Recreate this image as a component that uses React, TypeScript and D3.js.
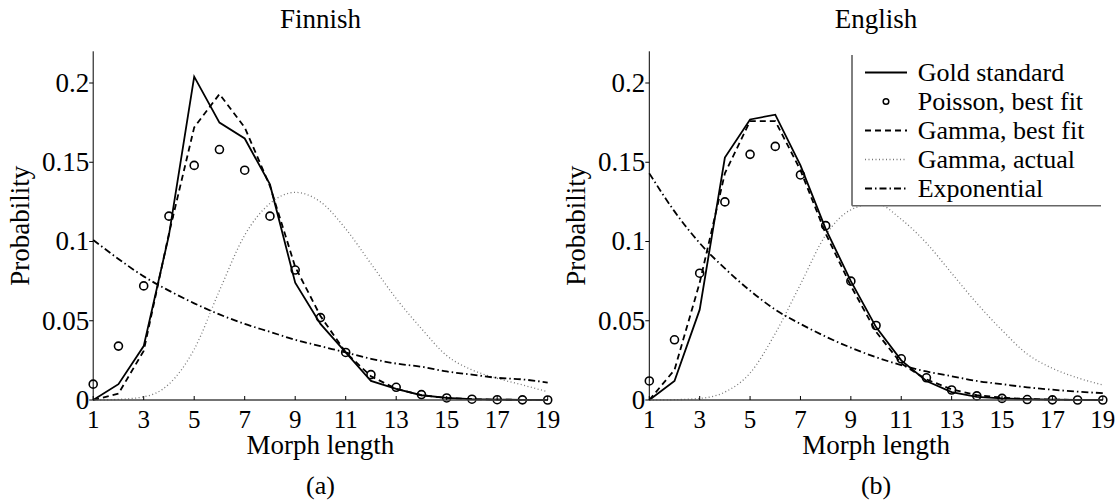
import * as d3 from 'd3'

// morph lengths on the x axis
const lengths = [1, 2, 3, 4, 5, 6, 7, 8, 9, 10, 11, 12, 13, 14, 15, 16, 17, 18, 19]
const xTicks = [1, 3, 5, 7, 9, 11, 13, 15, 17, 19]
const yTicks = [0, 0.05, 0.1, 0.15, 0.2]
const yTickLabels = ['0', '0.05', '0.1', '0.15', '0.2']

// Finnish
const finGold = [0, 0.010, 0.034, 0.104, 0.204, 0.175, 0.165, 0.136, 0.074, 0.048, 0.030, 0.012, 0.007, 0.003, 0.0013, 0.0005, 0.0002, 0.0001, 0]
const finPoisson = [0.010, 0.034, 0.072, 0.116, 0.148, 0.158, 0.145, 0.116, 0.082, 0.052, 0.030, 0.016, 0.008, 0.0034, 0.0013, 0.0005, 0.0002, 0.0001, 0]
const finGammaFit = [0, 0.004, 0.031, 0.105, 0.172, 0.193, 0.172, 0.135, 0.084, 0.053, 0.030, 0.015, 0.007, 0.003, 0.0013, 0.0005, 0.0002, 0.0001, 0]
const finGammaActual = [0, 0.0004, 0.002, 0.010, 0.032, 0.069, 0.104, 0.124, 0.131, 0.125, 0.108, 0.086, 0.064, 0.045, 0.028, 0.019, 0.0137, 0.0095, 0.0052]
const finExp = [0.101, 0.089, 0.078, 0.069, 0.061, 0.054, 0.048, 0.043, 0.038, 0.034, 0.030, 0.026, 0.023, 0.021, 0.018, 0.016, 0.014, 0.013, 0.011]

// English
const engGold = [0, 0.012, 0.057, 0.153, 0.177, 0.180, 0.148, 0.108, 0.075, 0.046, 0.025, 0.012, 0.005, 0.002, 0.001, 0.0005, 0.0002, 0.0001, 0]
const engPoisson = [0.012, 0.038, 0.080, 0.125, 0.155, 0.160, 0.142, 0.110, 0.075, 0.047, 0.026, 0.014, 0.0063, 0.0026, 0.001, 0.0003, 0.0001, 0, 0]
const engGammaFit = [0, 0.019, 0.074, 0.143, 0.176, 0.176, 0.145, 0.105, 0.072, 0.043, 0.023, 0.013, 0.0067, 0.003, 0.0015, 0.0006, 0.0002, 0.0001, 0]
const engGammaActual = [0, 0.0002, 0.001, 0.005, 0.017, 0.042, 0.073, 0.104, 0.120, 0.124, 0.114, 0.099, 0.080, 0.061, 0.044, 0.029, 0.020, 0.014, 0.0095]
const engExp = [0.143, 0.119, 0.099, 0.083, 0.069, 0.057, 0.048, 0.040, 0.033, 0.027, 0.022, 0.018, 0.015, 0.012, 0.010, 0.008, 0.0065, 0.0053, 0.0043]

const legendLabels = ['Gold standard', 'Poisson, best fit', 'Gamma, best fit', 'Gamma, actual', 'Exponential']

const font = "'Liberation Serif', 'Times New Roman', Times, serif"

const styles = {
  gold: { stroke: '#000', strokeWidth: 1.8, dash: undefined },
  gammaFit: { stroke: '#000', strokeWidth: 1.8, dash: '6,4' },
  gammaActual: { stroke: '#777', strokeWidth: 1.3, dash: '1,2.5' },
  exp: { stroke: '#000', strokeWidth: 1.8, dash: '7,3,1.5,3' },
}
const legendStyles = [styles.gold, null, styles.gammaFit, styles.gammaActual, styles.exp]

type PanelProps = {
  left: number
  right: number
  title: string
  caption: string
  gold: number[]
  poisson: number[]
  gammaFit: number[]
  gammaActual: number[]
  exp: number[]
  legend?: boolean
}

const Panel = ({ left, right, title, caption, gold, poisson, gammaFit, gammaActual, exp, legend }: PanelProps) => {
  const x = d3.scaleLinear().domain([1, 19]).range([left, right])
  const y = d3.scaleLinear().domain([0, 0.22]).range([400, 51.3])
  const mid = (left + right) / 2

  const straight = d3.line<number>().x((d, i) => x(lengths[i])).y(d => y(d))
  const smooth = d3.line<number>().x((d, i) => x(lengths[i])).y(d => y(d)).curve(d3.curveMonotoneX)

  const path = (d: string | null, s: any) => (
    <path d={d || ''} fill="none" stroke={s.stroke} strokeWidth={s.strokeWidth} strokeDasharray={s.dash} />
  )

  const lx0 = 865
  const lx1 = 907
  const rowY = (i: number) => 80.5 + i * 29

  return (
    <g>
      <text x={mid} y={28} textAnchor="middle" fontSize={27}>{title}</text>

      {path(smooth(gammaActual), styles.gammaActual)}
      {path(smooth(exp), styles.exp)}
      {path(straight(gammaFit), styles.gammaFit)}
      {path(straight(gold), styles.gold)}
      {poisson.map((d, i) => (
        <circle key={i} cx={x(lengths[i])} cy={y(d)} r={4} fill="none" stroke="#000" strokeWidth={1.6} />
      ))}

      {/* axes */}
      <line x1={left} x2={left} y1={y(0.22)} y2={y(0)} stroke="#000" strokeWidth={1} />
      <line x1={left} x2={right} y1={y(0)} y2={y(0)} stroke="#444" strokeWidth={1.5} />
      {yTicks.map((t, i) => (
        <g key={t}>
          <line x1={left - 4} x2={left} y1={y(t)} y2={y(t)} stroke="#000" />
          <text x={left - 4} y={y(t)} dy="0.33em" textAnchor="end" fontSize={27}>{yTickLabels[i]}</text>
        </g>
      ))}
      {xTicks.map(t => (
        <g key={t}>
          <line x1={x(t)} x2={x(t)} y1={y(0)} y2={y(0) - 4} stroke="#000" />
          <text x={x(t)} y={428} textAnchor="middle" fontSize={25}>{t}</text>
        </g>
      ))}
      <text x={mid} y={454} textAnchor="middle" fontSize={27}>Morph length</text>
      <text transform={`translate(${left - 64},${(y(0) + y(0.22)) / 2}) rotate(-90)`} textAnchor="middle" fontSize={27}>Probability</text>
      <text x={mid} y={494} textAnchor="middle" fontSize={26}>{caption}</text>

      {legend && (
        <g>
          <rect x={852} y={55} width={249} height={150.7} fill="#fff" />
          <line x1={852} x2={852} y1={55} y2={205.7} stroke="#000" strokeWidth={1} />
          <line x1={852} x2={1101} y1={205.7} y2={205.7} stroke="#666" strokeWidth={1.5} />
          {legendLabels.map((label, i) => {
            const s = legendStyles[i]
            return (
              <g key={label}>
                {s ? (
                  <line x1={lx0} x2={lx1} y1={rowY(i) - 8} y2={rowY(i) - 8}
                    stroke={s.stroke} strokeWidth={s.strokeWidth} strokeDasharray={s.dash} />
                ) : (
                  <circle cx={(lx0 + lx1) / 2} cy={rowY(i) - 8} r={2.8} fill="none" stroke="#000" strokeWidth={1.5} />
                )}
                <text x={917.7} y={rowY(i)} fontSize={26}>{label}</text>
              </g>
            )
          })}
        </g>
      )}
    </g>
  )
}

const App = () => (
  <svg
    width={1118}
    height={502}
    style={{ position: 'fixed', left: 0, top: 0, background: '#fff', fontFamily: font }}
  >
    <rect width={1118} height={502} fill="#fff" />
    <Panel left={93.2} right={547.7} title="Finnish" caption="(a)"
      gold={finGold} poisson={finPoisson} gammaFit={finGammaFit} gammaActual={finGammaActual} exp={finExp} />
    <Panel left={649.3} right={1102.8} title="English" caption="(b)"
      gold={engGold} poisson={engPoisson} gammaFit={engGammaFit} gammaActual={engGammaActual} exp={engExp} legend />
  </svg>
)

export default App
